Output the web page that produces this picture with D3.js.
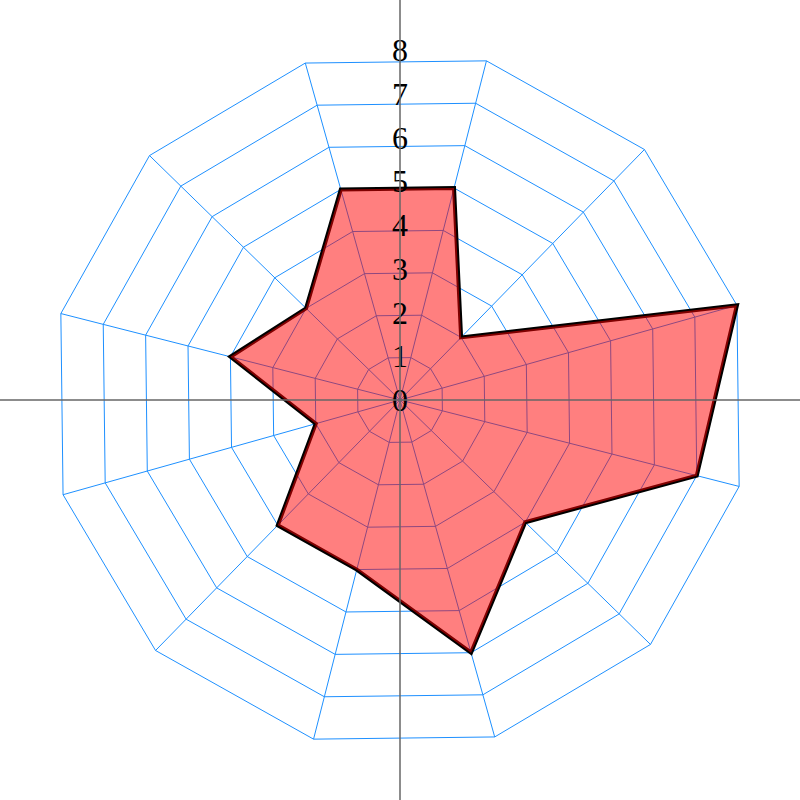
<!DOCTYPE html>
<html>
<head>
<meta charset="utf-8">
<script src="https://cdn.jsdelivr.net/npm/d3@7"></script>
<style>
html,body{margin:0;padding:0;background:#fff;}
svg{display:block;}
</style>
</head>
<body>
<svg id="chart" width="800" height="800"></svg>
<script>
// Data: values clockwise, starting at the spoke just right of vertical
const axesIdx = [0,1,2,3,4,5,6,7,8,9,10,11];
const values = [5, 2, 8, 7, 4, 6, 4, 4, 2, 4, 3, 5];
const ringLevels = [1,2,3,4,5,6,7,8];
const tickLabels = [0,1,2,3,4,5,6,7,8];

const W = 800, H = 800, cx = 400, cy = 400;
const maxR = 350;
const angleOffset = 14.3 * Math.PI / 180;
const n = values.length;

const svg = d3.select("#chart");
const g = svg.append("g").attr("transform", `translate(${cx},${cy})`);

const r = d3.scaleLinear().domain([0, 8]).range([0, maxR]);
const ang = d3.scaleLinear().domain([0, n]).range([angleOffset, angleOffset + 2 * Math.PI]);

const radial = d3.lineRadial()
  .angle((d, i) => ang(i))
  .radius(d => r(d))
  .curve(d3.curveLinearClosed);

// grid rings
g.selectAll("path.ring").data(ringLevels).enter().append("path")
  .attr("class", "ring")
  .attr("d", lvl => radial(axesIdx.map(() => lvl)))
  .attr("fill", "none")
  .attr("stroke", "#1e90ff")
  .attr("stroke-width", 1);

// spokes
g.selectAll("line.spoke").data(axesIdx).enter().append("line")
  .attr("class", "spoke")
  .attr("x1", 0).attr("y1", 0)
  .attr("x2", i => r(8) * Math.sin(ang(i)))
  .attr("y2", i => -r(8) * Math.cos(ang(i)))
  .attr("stroke", "#1e90ff")
  .attr("stroke-width", 1);

// cross axes
svg.append("line").attr("x1", cx).attr("x2", cx).attr("y1", 0).attr("y2", H)
  .attr("stroke", "#666").attr("stroke-width", 1.5);
svg.append("line").attr("x1", 0).attr("x2", W).attr("y1", cy).attr("y2", cy)
  .attr("stroke", "#666").attr("stroke-width", 1.5);

// data polygon
g.append("path")
  .datum(values)
  .attr("d", radial)
  .attr("fill", "rgba(255,0,0,0.5)")
  .attr("stroke", "#000")
  .attr("stroke-width", 4)
  .attr("paint-order", "stroke")
  .attr("stroke-linejoin", "miter");

// tick labels
g.selectAll("text.tick").data(tickLabels).enter().append("text")
  .attr("class", "tick")
  .attr("x", 0)
  .attr("y", d => -r(d))
  .attr("text-anchor", "middle")
  .attr("dominant-baseline", "central")
  .attr("font-family", "'Liberation Serif', 'Times New Roman', serif")
  .attr("font-size", 32)
  .attr("fill", "#000")
  .text(d => d);
</script>
</body>
</html>
